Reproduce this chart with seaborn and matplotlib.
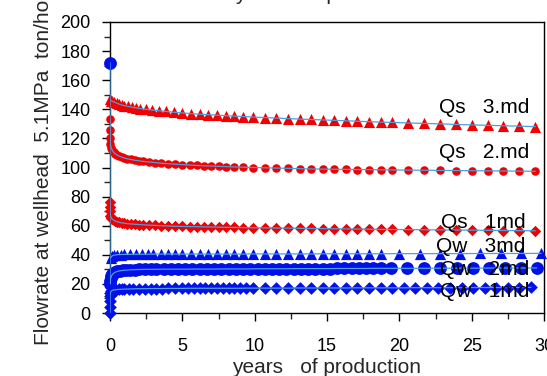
import matplotlib
matplotlib.use("Agg")
import matplotlib.pyplot as plt
import seaborn as sns
import pandas as pd
from matplotlib.ticker import MultipleLocator

# ---------------- data ----------------
t_qs3 = [0, 0.05, 0.15, 0.3, 0.45, 0.6, 0.8, 1.0, 1.25, 1.5,
         1.8, 2.1, 2.5, 2.9, 3.4, 3.9, 4.4, 5.0, 5.6, 6.2,
         6.8, 7.4, 8.0, 8.6, 9.2, 9.9, 10.7, 11.5, 12.3, 13.1,
         13.9, 14.7, 15.5, 16.3, 17.1, 17.9, 18.7, 19.5, 20.6, 21.7,
         22.8, 23.9, 25.0, 26.1, 27.2, 28.3, 29.4]
qs_3md = [147, 146, 145.5, 145, 144.3, 143.7, 143, 142.5, 142, 141.5,
          141, 140.5, 140, 139.5, 139, 138.5, 138, 137.5, 137, 136.6,
          136.3, 136, 135.6, 135.3, 135, 134.7, 134.3, 134, 133.6, 133.3,
          133, 132.7, 132.4, 132.1, 131.8, 131.5, 131.2, 131, 130.6, 130.3,
          130, 129.6, 129.3, 129, 128.7, 128.4, 128.1]

t_qs = [0, 0, 0, 0.03, 0.08, 0.15, 0.25, 0.35, 0.5, 0.65,
        0.8, 1.0, 1.2, 1.45, 1.7, 2.0, 2.3, 2.7, 3.1, 3.5,
        4.0, 4.5, 5.0, 5.5, 6.0, 6.5, 7.0, 7.5, 8.0, 8.6,
        9.2, 9.9, 10.7, 11.5, 12.3, 13.1, 13.9, 14.7, 15.5, 16.3,
        17.1, 17.9, 18.7, 19.5, 20.6, 21.7, 22.8, 23.9, 25.0, 26.1,
        27.2, 28.3, 29.4]
qs_2md = [133, 126, 120, 116, 113.5, 112, 110.5, 109.5, 108.5, 107.8,
          107.2, 106.5, 106, 105.5, 105, 104.6, 104.2, 103.8, 103.4, 103,
          102.6, 102.3, 102, 101.7, 101.4, 101.2, 101, 100.8, 100.6, 100.4,
          100.2, 100, 99.8, 99.6, 99.4, 99.2, 99, 98.9, 98.8, 98.7,
          98.6, 98.5, 98.4, 98.3, 98.2, 98.1, 98, 97.9, 97.8, 97.7,
          97.6, 97.5, 97.4]
qs_1md = [76, 73, 70, 67, 65.5, 64.5, 63.8, 63.2, 62.7, 62.3,
          62, 61.7, 61.4, 61.2, 61, 60.8, 60.6, 60.4, 60.2, 60,
          59.8, 59.6, 59.5, 59.4, 59.3, 59.2, 59.1, 59, 58.9, 58.8,
          58.7, 58.6, 58.5, 58.4, 58.3, 58.2, 58.1, 58, 57.9, 57.8,
          57.7, 57.6, 57.5, 57.4, 57.3, 57.2, 57.1, 57, 56.9, 56.8,
          56.7, 56.6, 56.5]

t_qw3 = [0.05, 0.15, 0.3, 0.5, 0.75, 1.0, 1.4, 1.8, 2.2, 2.6,
         3.0, 3.5, 4.0, 4.5, 5.0, 5.6, 6.2, 6.8, 7.4, 8.0,
         8.6, 9.2, 9.9, 10.7, 11.5, 12.3, 13.1, 13.9, 14.7, 15.5,
         16.3, 17.1, 17.9, 18.7, 20.0, 21.4, 22.8, 24.2, 25.6, 27.0,
         28.4, 29.8]
qw_3md = [38, 39.3, 39.8, 40.1, 40.2, 40.3, 40.3, 40.4, 40.4, 40.4,
          40.5, 40.5, 40.5, 40.5, 40.5, 40.5, 40.5, 40.5, 40.5, 40.5,
          40.5, 40.5, 40.6, 40.6, 40.6, 40.6, 40.6, 40.6, 40.7, 40.7,
          40.7, 40.7, 40.7, 40.7, 40.8, 40.8, 40.8, 40.8, 40.9, 40.9,
          40.9, 41]

t_qw2 = [0, 0, 0.02, 0.05, 0.1, 0.17, 0.25, 0.35, 0.5, 0.7, 0.9,
         1.1, 1.4, 1.7, 2.0, 2.4, 2.8, 3.2, 3.7, 4.2, 4.7,
         5.2, 5.7, 6.2, 6.7, 7.2, 7.7, 8.2, 8.7, 9.2, 9.7,
         10.2, 10.7, 11.2, 11.7, 12.2, 12.7, 13.2, 13.7, 14.2, 14.7,
         15.2, 15.7, 16.2, 16.7, 17.2, 17.7, 18.2, 18.7, 19.4, 20.5,
         21.7, 22.8, 24.0, 25.1, 26.2, 27.3, 28.4, 29.5]
qw_2md = [172, 20, 22, 24, 25.5, 26.5, 27.3, 28, 28.6, 29, 29.3,
          29.5, 29.7, 29.8, 29.9, 30, 30, 30, 30.1, 30.1, 30.1,
          30.1, 30.2, 30.2, 30.2, 30.2, 30.3, 30.3, 30.3, 30.3, 30.3,
          30.4, 30.4, 30.4, 30.4, 30.4, 30.5, 30.5, 30.5, 30.5, 30.5,
          30.5, 30.6, 30.6, 30.6, 30.6, 30.6, 30.7, 30.7, 30.7, 30.7,
          30.7, 30.8, 30.8, 30.8, 30.9, 30.9, 30.9, 31]

t_qw1 = [0, 0, 0, 0, 0.03, 0.08, 0.15, 0.25, 0.4, 0.6,
         0.8, 1.0, 1.3, 1.6, 2.0, 2.4, 2.8, 3.2, 3.6, 4.0,
         4.5, 5.0, 5.4, 5.8, 6.2, 6.6, 7.0, 7.4, 7.8, 8.2,
         8.6, 9.0, 9.4, 9.9, 10.7, 11.5, 12.3, 13.1, 13.9, 14.7,
         15.5, 16.3, 17.1, 17.9, 18.7, 19.5, 20.3, 21.1, 21.9, 22.7,
         23.5, 24.3, 25.1, 25.9, 26.7, 27.5, 28.3, 29.1]
qw_1md = [0, 4, 8, 12, 14, 15, 15.5, 15.8, 16, 16.2,
          16.3, 16.4, 16.5, 16.6, 16.7, 16.7, 16.8, 16.8, 16.8, 16.9,
          16.9, 16.9, 17, 17, 17, 17, 17, 17, 17, 17,
          17, 17, 17.1, 17.1, 17.1, 17.1, 17.1, 17.2, 17.2, 17.2,
          17.2, 17.2, 17.3, 17.3, 17.3, 17.3, 17.3, 17.4, 17.4, 17.4,
          17.4, 17.4, 17.5, 17.5, 17.5, 17.5, 17.5, 17.6]

series_labels = ["Qs   3.md", "Qs   2.md", "Qs   1md", "Qw   3md", "Qw   2md", "Qw   1md"]
label_pos = [(29.0, 141), (29.0, 110), (28.7, 62), (28.7, 45.5), (29.0, 30), (29.0, 14.5)]

x_ticks = [0, 5, 10, 15, 20, 25, 30]
y_ticks = [0, 20, 40, 60, 80, 100, 120, 140, 160, 180, 200]
x_label = "years   of production"
y_label = "Flowrate at wellhead  5.1MPa  ton/hour"

# ---------------- plot ----------------
sns.set_style("ticks")
plt.rcParams["font.family"] = ["Liberation Sans", "DejaVu Sans"]

RED = "#f00000"
BLUE = "#0010e6"
LINE = "#4aa0e0"

fig = plt.figure(figsize=(5.47, 3.76), dpi=100)
ax = fig.add_axes([110 / 547, 63 / 376, 434 / 547, 291 / 376])

series = [
    (t_qs3, qs_3md, RED, "^", 65),
    (t_qs, qs_2md, RED, "o", 38),
    (t_qs, qs_1md, RED, "D", 34),
    (t_qw3, qw_3md, BLUE, "^", 65),
    (t_qw2, qw_2md, BLUE, "o", 85),
    (t_qw1, qw_1md, BLUE, "D", 42),
]
for t, v, c, m, s in series:
    df = pd.DataFrame({"t": t, "v": v})
    sns.scatterplot(data=df, x="t", y="v", color=c, marker=m, s=s,
                    linewidth=0, ax=ax, zorder=3, clip_on=False)
    sns.lineplot(data=df, x="t", y="v", color=LINE, linewidth=0.9,
                 estimator=None, sort=False, ax=ax, zorder=4)

for lab, (x, y) in zip(series_labels, label_pos):
    ax.text(x, y, lab, ha="right", va="center", fontsize=15, color="black", zorder=5)

ax.set_xlim(0, 30)
ax.set_ylim(0, 200)
ax.set_xticks(x_ticks)
ax.set_yticks(y_ticks)
ax.xaxis.set_minor_locator(MultipleLocator(2.5))
ax.yaxis.set_minor_locator(MultipleLocator(10))
ax.tick_params(axis="both", which="major", direction="out", length=6, width=1,
               labelsize=13, colors="black")
ax.tick_params(axis="both", which="minor", direction="out", length=4, width=1)
ax.tick_params(axis="x", which="major", pad=12)
ax.tick_params(axis="y", which="major", pad=8)
for sp in ax.spines.values():
    sp.set_visible(True)
    sp.set_color("black")
    sp.set_linewidth(1)
ax.set_xlabel(x_label, fontsize=15, labelpad=2)
ax.set_ylabel("")
fig.text(44 / 547, 1 - 345 / 376, y_label, rotation=90, ha="center", va="bottom",
         fontsize=15)
fig.text(330 / 547, 1.0, x_label, ha="center", va="baseline", fontsize=15)

fig.savefig("out.png", dpi=100)
